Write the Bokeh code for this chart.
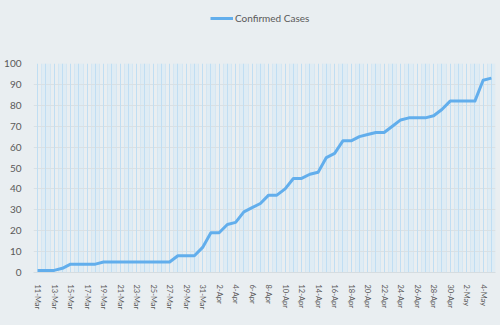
import math
from bokeh.plotting import figure
from bokeh.layouts import column
from bokeh.models import FixedTicker, Grid, Legend, LegendItem, Range1d
from bokeh.embed import file_html
from bokeh.resources import INLINE

dates = (["%d-Mar" % d for d in range(11, 32)] +
         ["%d-Apr" % d for d in range(1, 31)] +
         ["%d-May" % d for d in range(1, 6)])
cases = [1, 1, 1, 2, 4, 4, 4, 4,
         5, 5, 5, 5, 5, 5, 5, 5, 5,
         8, 8, 8,
         12,
         19, 19, 23, 24, 29, 31, 33, 37, 37, 40,
         45, 45, 47, 48, 55, 57, 63, 63, 65, 66,
         67, 67, 70, 73, 74, 74, 74, 75, 78, 82,
         82, 82, 82, 92, 93]
y_ticks = list(range(0, 101, 10))
series_name = "Confirmed Cases"

idx = list(range(len(dates)))
BG = "#E9EEF1"
TXT = "#595959"
FONT = "Lato"
LINE_COLOR = "#62AEEC"

# ---- legend strip (top) ----
top = figure(width=500, height=40, output_backend="svg", toolbar_location=None,
             x_range=Range1d(-0.5, len(dates) - 0.5), y_range=Range1d(1000, 1001),
             x_axis_location=None, y_axis_location=None,
             min_border=0, min_border_left=0, min_border_right=0,
             min_border_top=0, min_border_bottom=0)
top.background_fill_color = BG
top.border_fill_color = BG
top.outline_line_color = None
top.grid.visible = False
# same series, kept outside the visible range: only its legend entry shows
leg_r = top.line(idx, cases, line_color=LINE_COLOR, line_width=3)
legend = Legend(items=[LegendItem(label=series_name, renderers=[leg_r])],
                orientation="horizontal", location=(177, 15),
                background_fill_alpha=0, border_line_color=None,
                label_text_font=FONT, label_text_font_size="10px", label_text_color=TXT,
                glyph_width=23, glyph_height=14, label_standoff=2, padding=0, margin=0)
top.add_layout(legend)

# ---- main chart ----
p = figure(width=500, height=285, output_backend="svg", toolbar_location=None,
           x_range=Range1d(-0.5, len(dates) - 0.5), y_range=Range1d(0, 100),
           min_border_left=33, min_border_right=5, min_border_top=23, min_border_bottom=53)
p.background_fill_color = BG
p.border_fill_color = BG
p.outline_line_color = None

# grids (bands + lines)
p.xgrid.ticker = FixedTicker(ticks=[i - 0.5 for i in idx] + [len(idx) - 0.5])
p.xgrid.grid_line_color = "#D3E6F3"
p.xgrid.grid_line_width = 1
p.xgrid.band_fill_color = "#D6EAF7"
p.xgrid.band_fill_alpha = 0.5
p.add_layout(Grid(dimension=0, ticker=FixedTicker(ticks=idx),
                  grid_line_color="#C0DEF3", grid_line_width=1))
p.ygrid.ticker = FixedTicker(ticks=y_ticks)
p.ygrid.grid_line_color = "#D9E0E4"

line = p.line(idx, cases, line_color=LINE_COLOR, line_width=3, line_join="round")

# axes
p.xaxis.ticker = FixedTicker(ticks=idx[::2])
p.xaxis.major_label_overrides = {i: dates[i] for i in idx}
p.xaxis.major_label_orientation = -math.pi / 2
p.xaxis.major_label_text_font = FONT
p.xaxis.major_label_text_font_size = "7.5px"
p.xaxis.major_label_text_color = TXT
p.xaxis.axis_line_color = "#D5DCE0"
p.xaxis.major_tick_line_color = None
p.xaxis.minor_tick_line_color = None
p.xaxis.major_label_standoff = 6

p.yaxis.ticker = FixedTicker(ticks=y_ticks)
p.yaxis.major_label_text_font = FONT
p.yaxis.major_label_text_font_size = "10px"
p.yaxis.major_label_text_color = TXT
p.yaxis.axis_line_color = None
p.yaxis.major_tick_line_color = None
p.yaxis.minor_tick_line_color = None
p.yaxis.major_label_standoff = 6

layout = column(top, p, spacing=0, styles={"background-color": BG})
html = file_html(layout, INLINE)
html = html.replace("<body>", '<body style="margin:0;background-color:%s;">' % BG, 1)
open("out.html", "w").write(html)
